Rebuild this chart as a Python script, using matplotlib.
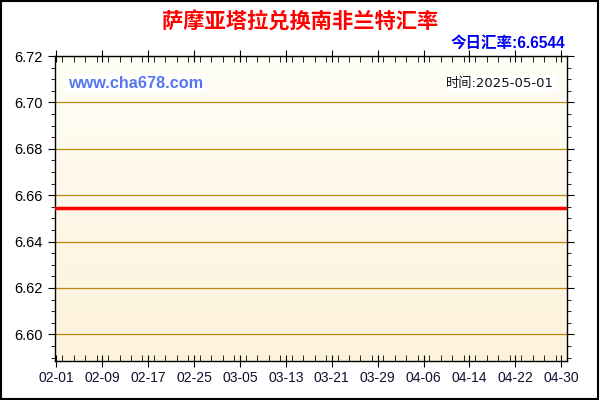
import numpy as np
import pandas as pd
import matplotlib
matplotlib.use('Agg')
import matplotlib.pyplot as plt
import matplotlib.dates as mdates
from matplotlib.colors import LinearSegmentedColormap
from matplotlib.ticker import MultipleLocator

plt.rcParams['font.family'] = ['Liberation Sans', 'Noto Sans CJK SC', 'DejaVu Sans']

# daily rate, 2025-02-01 .. 2025-05-01
dates = pd.date_range('2025-02-01', '2025-05-01', freq='D')
rates = [
    6.6544, 6.6544, 6.6544, 6.6544, 6.6544, 6.6544, 6.6544, 6.6544, 6.6544, 6.6544,
    6.6544, 6.6544, 6.6544, 6.6544, 6.6544, 6.6544, 6.6544, 6.6544, 6.6544, 6.6544,
    6.6544, 6.6544, 6.6544, 6.6544, 6.6544, 6.6544, 6.6544, 6.6544, 6.6544, 6.6544,
    6.6544, 6.6544, 6.6544, 6.6544, 6.6544, 6.6544, 6.6544, 6.6544, 6.6544, 6.6544,
    6.6544, 6.6544, 6.6544, 6.6544, 6.6544, 6.6544, 6.6544, 6.6544, 6.6544, 6.6544,
    6.6544, 6.6544, 6.6544, 6.6544, 6.6544, 6.6544, 6.6544, 6.6544, 6.6544, 6.6544,
    6.6544, 6.6544, 6.6544, 6.6544, 6.6544, 6.6544, 6.6544, 6.6544, 6.6544, 6.6544,
    6.6544, 6.6544, 6.6544, 6.6544, 6.6544, 6.6544, 6.6544, 6.6544, 6.6544, 6.6544,
    6.6544, 6.6544, 6.6544, 6.6544, 6.6544, 6.6544, 6.6544, 6.6544, 6.6544, 6.6544,
]
yticks = [6.60, 6.62, 6.64, 6.66, 6.68, 6.70, 6.72]

title = '萨摩亚塔拉兑换南非兰特汇率'
today_rate = '今日汇率:6.6544'
date_text = '时间:2025-05-01'
site = 'www.cha678.com'

fig = plt.figure(figsize=(6, 4), dpi=100)
fig.patch.set_facecolor('white')
ax = fig.add_axes([55 / 600, 1 - 361 / 400, 512 / 600, 305 / 400])

# gradient background
grad = LinearSegmentedColormap.from_list('bg', ['#FDF2DB', '#FFFEF6'])
ax.imshow(np.linspace(0, 1, 256).reshape(-1, 1), aspect='auto', cmap=grad,
          origin='lower', extent=[0, 1, 0, 1], transform=ax.transAxes, zorder=0)

for y in yticks:
    ax.axhline(y, color='#B8860B', lw=0.9, zorder=1)

ax.plot(dates, rates, color='#FF0000', lw=2.5, zorder=3)

ax.set_xlim(dates[0] - pd.Timedelta(hours=6), dates[-1])
ax.set_ylim(6.5885, 6.72)
ax.set_yticks(yticks)
ax.set_yticklabels([f'{v:.2f}' for v in yticks])
ax.yaxis.set_minor_locator(MultipleLocator(0.005))

xt = dates[::8]
ax.set_xticks(xt)
ax.set_xticklabels([d.strftime('%m-%d') for d in xt])
ax.xaxis.set_minor_locator(mdates.DayLocator(interval=2))

ax.tick_params(axis='y', which='major', direction='out', length=5, labelsize=10.5,
               colors='black', pad=4)
ax.tick_params(axis='y', which='minor', direction='out', length=3)
ax.tick_params(axis='x', which='major', direction='inout', length=8, labelsize=10,
               labelcolor='#101030', pad=3)
ax.tick_params(axis='x', which='minor', direction='in', length=4)
ax.tick_params(top=True, right=True, which='both')
ax.tick_params(axis='x', which='both', top=True, labeltop=False)

for s in ax.spines.values():
    s.set_color('black')
    s.set_linewidth(1)

ax.text(0.025, 0.91, site, transform=ax.transAxes, fontsize=11.7, fontweight='bold',
        color='#5577EE', va='center', ha='left',
        bbox=dict(facecolor='white', edgecolor='none', pad=1))
ax.text(0.975, 0.91, date_text, transform=ax.transAxes, fontsize=9.5,
        color='#111111', va='center', ha='right',
        family=['DejaVu Sans', 'Noto Sans CJK SC'],
        bbox=dict(facecolor='white', edgecolor='none', pad=1))

fig.text(0.5, 0.945, title, ha='center', va='center', fontsize=15.3,
         fontweight='bold', color='#FF0000')
fig.text(565 / 600, 0.892, today_rate, ha='right', va='center', fontsize=11.2,
         fontweight='bold', color='#0000EE')

# outer frame
fig.add_artist(plt.Rectangle((0.002, 0.003), 0.995, 0.994, transform=fig.transFigure,
                             fill=False, edgecolor='black', lw=1.5))

fig.savefig('out.png', dpi=100)
